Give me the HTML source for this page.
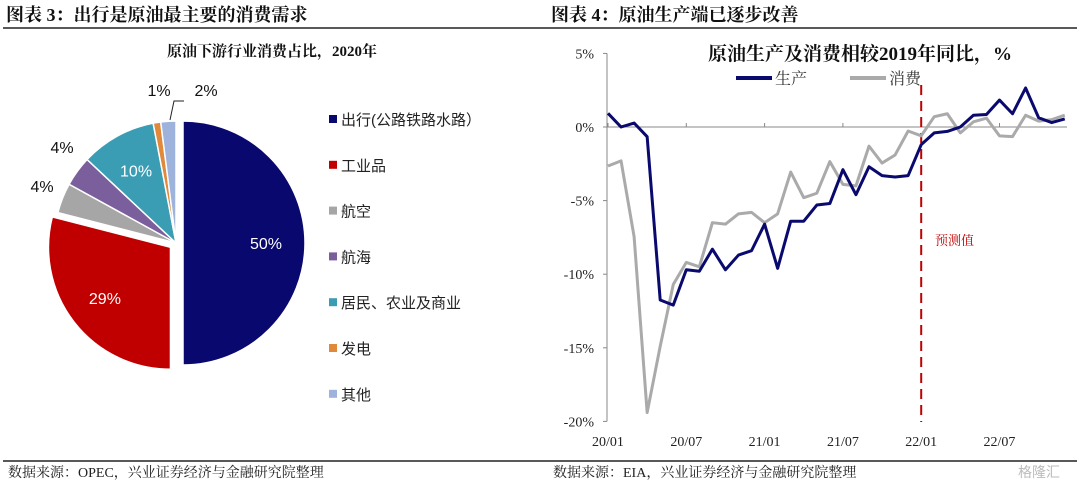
<!DOCTYPE html>
<html><head><meta charset="utf-8">
<style>
body{margin:0;background:#fff;}
svg{display:block;font-family:"Liberation Serif","Noto Serif CJK SC",serif;}
.s{font-family:"Liberation Sans","Noto Sans CJK SC",sans-serif;}
</style></head><body>
<svg id="c" width="1080" height="486" viewBox="0 0 1080 486" xmlns="http://www.w3.org/2000/svg">
<text x="6" y="21" font-size="18" font-weight="bold" fill="#111">图表 3：出行是原油最主要的消费需求</text>
<text x="551" y="21" font-size="18" font-weight="bold" fill="#111">图表 4：原油生产端已逐步改善</text>
<line x1="3" y1="28" x2="1077" y2="28" stroke="#222" stroke-width="1.5"/>
<line x1="3" y1="461" x2="1077" y2="461" stroke="#222" stroke-width="1.5"/>
<text x="8" y="477" font-size="14" fill="#222">数据来源：OPEC，兴业证券经济与金融研究院整理</text>
<text x="553" y="477" font-size="14" fill="#222">数据来源：EIA，兴业证券经济与金融研究院整理</text>
<text x="1018" y="477" font-size="14" fill="#bbb" class="s">格隆汇</text>
<text x="272" y="56" font-size="15" font-weight="bold" text-anchor="middle" fill="#111">原油下游行业消费占比，2020年</text>
<g id="pie"></g><g id="legend"></g>
<text x="860" y="60" font-size="19" font-weight="bold" text-anchor="middle" fill="#111">原油生产及消费相较2019年同比，%</text>
<g>
<line x1="736" y1="78" x2="772" y2="78" stroke="#0a0a6e" stroke-width="4"/>
<text x="775" y="84" font-size="16" fill="#333">生产</text>
<line x1="850" y1="78" x2="886" y2="78" stroke="#aaa" stroke-width="4"/>
<text x="889" y="84" font-size="16" fill="#333">消费</text>
</g>
<g id="line"></g>
</svg>
<script>
const pieLabels=["出行(公路铁路水路）","工业品","航空","航海","居民、农业及商业","发电","其他"];
const pieValues=[50,29,4,4,10,1,2];
const pieColors=["#08086e","#c00000","#a6a6a6","#7b5e9c","#3b9db3","#e0893a","#9db3db"];
const months=["20/01","20/07","21/01","21/07","22/01","22/07"];
const prod=[0.93,0.0,0.27,-0.66,-11.75,-12.1,-9.7,-9.8,-8.3,-9.7,-8.7,-8.4,-6.6,-9.6,-6.4,-6.4,-5.3,-5.2,-2.9,-4.6,-2.7,-3.3,-3.4,-3.3,-1.2,-0.4,-0.3,0.0,0.8,0.85,1.83,0.9,2.65,0.63,0.3,0.55];
const cons=[-2.65,-2.3,-7.45,-19.4,-14.9,-10.7,-9.2,-9.5,-6.5,-6.6,-5.9,-5.8,-6.5,-5.9,-3.06,-4.8,-4.5,-2.35,-3.9,-4.0,-1.3,-2.45,-1.9,-0.27,-0.6,0.7,0.9,-0.4,0.35,0.6,-0.6,-0.65,0.8,0.4,0.5,0.8];
const yTicks=[5,0,-5,-10,-15,-20];
const NS="http://www.w3.org/2000/svg";
function mk(p,t,a){const e=document.createElementNS(NS,t);for(const k in a)e.setAttribute(k,a[k]);p.appendChild(e);return e;}
// pie
const pie=document.getElementById('pie');
const cx=176,cy=243,r=122;
const total=pieValues.reduce((a,b)=>a+b,0);
let ang=0;
const labelPos=[null,null,[42,192],[62,153],null,[159,96],[206,96]];
pieValues.forEach((v,i)=>{
  const a0=ang,a1=ang+v/total*2*Math.PI;ang=a1;
  const mid=(a0+a1)/2;const ex=(i<2)?7:0;
  const ox=cx+ex*Math.sin(mid),oy=cy-ex*Math.cos(mid);
  const p=(a)=>[ox+r*Math.sin(a),oy-r*Math.cos(a)];
  const [x0,y0]=p(a0),[x1,y1]=p(a1);
  const s=mk(pie,'path',{d:`M${ox},${oy}L${x0},${y0}A${r},${r} 0 ${a1-a0>Math.PI?1:0} 1 ${x1},${y1}Z`,fill:pieColors[i],stroke:'#fff','stroke-width':1.5});
  
  
  let lx,ly,col;
  if(labelPos[i]){[lx,ly]=labelPos[i];col='#111';}
  else{const rr=r*0.68;lx=ox+rr*Math.sin(mid);ly=oy-rr*Math.cos(mid)+6;col='#fff';}
  const t=mk(pie,'text',{x:lx,y:ly,'font-size':16,'text-anchor':'middle',fill:col,class:'s'});
  t.textContent=v+'%';
  
  
});
mk(pie,'path',{d:'M170,120 L174,101 L184,101',fill:'none',stroke:'#222','stroke-width':1});
const lg=document.getElementById('legend');
pieLabels.forEach((l,i)=>{
  const y=120+i*45.8;
  const g=mk(lg,'g',{});
  
  
  mk(g,'rect',{x:329,y:y-5,width:8,height:8,fill:pieColors[i]});
  const t=mk(g,'text',{x:341,y:y+5,'font-size':15,fill:'#222',class:'s'});t.textContent=l;
});
// line chart
const L=document.getElementById('line');
const X=i=>608+i*13.05, Y=v=>127-v*14.72;
mk(L,'line',{x1:607,y1:Y(5),x2:607,y2:Y(-20),stroke:'#888','stroke-width':1});
yTicks.forEach(v=>{
  mk(L,'line',{x1:603,y1:Y(v),x2:607,y2:Y(v),stroke:'#888'});
  const t=mk(L,'text',{x:594,y:Y(v)+5,'font-size':14,'text-anchor':'end',fill:'#222'});t.textContent=v+'%';
  
  
});
mk(L,'line',{x1:607,y1:Y(0),x2:1067,y2:Y(0),stroke:'#888','stroke-width':1});
months.forEach((m,k)=>{
  const x=X(k*6);
  mk(L,'line',{x1:x,y1:Y(0),x2:x,y2:Y(0)-4,stroke:'#888'});
  const t=mk(L,'text',{x:x,y:446,'font-size':14,'text-anchor':'middle',fill:'#222'});t.textContent=m;
  
  
});
const fl=mk(L,'line',{x1:X(24),y1:85,x2:X(24),y2:422,stroke:'#c00000','stroke-width':2,'stroke-dasharray':'10,6'});


const ft=mk(L,'text',{x:935,y:245,'font-size':13,fill:'#c00000'});ft.textContent='预测值';


const c=mk(L,'polyline',{points:cons.map((v,i)=>X(i)+','+Y(v)).join(' '),fill:'none',stroke:'#aaa','stroke-width':3,'stroke-linejoin':'round'});


const p=mk(L,'polyline',{points:prod.map((v,i)=>X(i)+','+Y(v)).join(' '),fill:'none',stroke:'#0a0a6e','stroke-width':3,'stroke-linejoin':'round'});


</script>
</body></html>
